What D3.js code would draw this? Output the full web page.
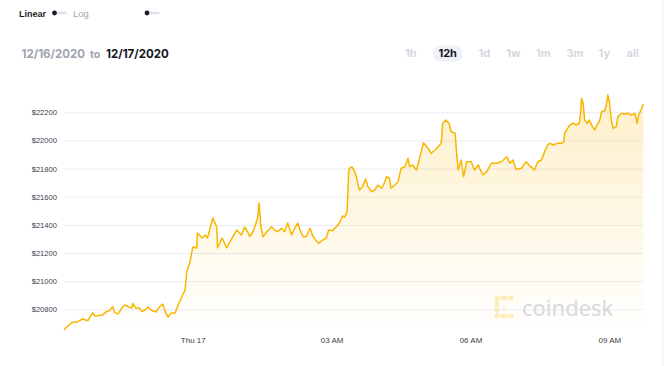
<!DOCTYPE html>
<html>
<head>
<meta charset="utf-8">
<script src="https://cdn.jsdelivr.net/npm/d3@7"></script>
<style>
  body { margin: 0; background: #fff; }
  svg { display: block; }
</style>
</head>
<body>
<svg id="chart" width="666" height="366"></svg>
<script>
// BTC price, 12h window. minutes are relative to 00:00 Thu Dec 17 2020
var minutes = [-167,-165,-162,-157,-153,-149,-143,-136,-130,-127,-122,-117,-112,-108,-104,-101,-97,-92,-88,-84,-79,-78,-74,-69,-66,-62,-58,-54,-48,-43,-39,-35,-32,-28,-23,-19,-15,-10,-8,-4,
  0,5,6,12,16,19,26,31,32,38,44,51,57,63,67,71,74,78,82,84,86,88,91,96,102,106,110,115,119,123,128,132,136,139,143,147,152,155,159,163,168,173,176,181,186,190,194,197,200,201,202,
  203,206,210,212,216,220,224,227,232,236,240,245,249,251,255,257,262,266,270,275,279,281,285,290,294,299,305,309,314,318,322,324,328,332,335,340,342,344,348,351,355,361,365,370,376,381,387,394,
  400,407,411,415,419,426,432,437,441,443,447,452,456,460,463,467,473,478,481,482,486,489,493,497,501,503,504,506,508,511,514,518,521,525,527,530,534,536,538,540,543,545,549,551,556,560,564,569,573,576,578,581,584];
var prices = [20653,20667,20681,20705,20710,20712,20731,20719,20776,20752,20756,20760,20783,20790,20818,20776,20767,20809,20831,20818,20809,20841,20809,20809,20783,20795,20816,20795,20781,20818,20838,20774,20745,20774,20774,20831,20880,20937,21065,21129,
  21243,21236,21342,21307,21328,21307,21449,21385,21236,21307,21236,21307,21364,21328,21385,21351,21316,21351,21413,21449,21555,21399,21316,21351,21387,21364,21351,21376,21351,21413,21328,21376,21413,21364,21316,21316,21376,21328,21292,21269,21292,21305,21364,21359,21387,21413,21463,21456,21494,21626,21769,
  21802,21813,21778,21742,21648,21671,21726,21671,21636,21648,21683,21660,21707,21742,21731,21660,21683,21707,21802,21813,21873,21813,21826,21790,21875,21984,21944,21909,21932,21956,21980,22122,22145,22122,22062,22051,21909,21790,21861,21742,21849,21849,21790,21826,21754,21778,21838,21838,
  21849,21884,21838,21861,21795,21802,21849,21818,21802,21790,21847,21861,21920,21968,21980,21968,21980,21980,21991,22051,22086,22110,22122,22110,22122,22216,22300,22264,22145,22122,22145,22098,22074,22122,22133,22204,22211,22252,22323,22275,22133,22086,22098,22169,22193,22188,22193,22181,22193,22122,22181,22216,22259];

var yTicks = [20800, 21000, 21200, 21400, 21600, 21800, 22000, 22200];
var xTickHours = [0, 3, 6, 9];
var ranges = ["1h", "12h", "1d", "1w", "1m", "3m", "1y", "all"];
var activeRange = "12h";
var fromDate = "12/16/2020", toDate = "12/17/2020";

var svg = d3.select("#chart");
var left = 64, right = 643.3, plotBottom = 333;

var day0 = new Date(2020, 11, 17, 0, 0);
function toTime(m) { return new Date(day0.getTime() + m * 60000); }

var data = minutes.map(function(m, i) { return {t: toTime(m), p: prices[i]}; });

var x = d3.scaleTime()
  .domain([toTime(minutes[0]), toTime(minutes[minutes.length - 1])])
  .range([left, right]);

var y = d3.scaleLinear()
  .domain([20800, 22200])
  .range([309.3, 112.3]);

// header
var hdr = svg.append("g").style("font-family", "Inter, 'Liberation Sans', Arial, sans-serif");
hdr.append("text").attr("x", 19).attr("y", 16.5).text("Linear")
  .style("font-family", "'Liberation Sans', Arial, sans-serif")
  .style("font-size", "9px").style("font-weight", 700).style("fill", "#1b1d2a");
hdr.append("line").attr("x1", 54).attr("x2", 66).attr("y1", 13).attr("y2", 13)
  .style("stroke", "#dfe2ea").style("stroke-width", 2.4).style("stroke-linecap", "round");
hdr.append("circle").attr("cx", 54.5).attr("cy", 13).attr("r", 2.4).style("fill", "#1b1d2a");
hdr.append("text").attr("x", 73).attr("y", 16.5).text("Log")
  .style("font-family", "'Liberation Sans', Arial, sans-serif")
  .style("font-size", "9.5px").style("fill", "#a3a7b3");
hdr.append("line").attr("x1", 147).attr("x2", 158.5).attr("y1", 13).attr("y2", 13)
  .style("stroke", "#dfe2ea").style("stroke-width", 2.4).style("stroke-linecap", "round");
hdr.append("circle").attr("cx", 147).attr("cy", 13).attr("r", 2.4).style("fill", "#1b1d2a");

hdr.append("text").attr("x", 21.5).attr("y", 57.5).text(fromDate)
  .style("font-size", "11.5px").style("font-weight", 700).style("fill", "#9ea3b0");
hdr.append("text").attr("x", 90).attr("y", 57.5).text("to")
  .style("font-size", "10.5px").style("font-weight", 700).style("fill", "#9ea3b0");
hdr.append("text").attr("x", 106).attr("y", 57.5).text(toDate)
  .style("font-size", "11.5px").style("font-weight", 700).style("fill", "#14161f");

var btnX = [410.7, 447.7, 484.3, 513.3, 543.3, 575, 604.3, 632.7];
ranges.forEach(function(r, i) {
  if (r == activeRange) {
    hdr.append("rect").attr("x", btnX[i] - 15).attr("y", 45.5).attr("width", 30).attr("height", 16)
      .attr("rx", 8).style("fill", "#eef1f8");
  }
  hdr.append("text").attr("x", btnX[i]).attr("y", 57.3).attr("text-anchor", "middle").text(r)
    .style("font-size", "11px").style("font-weight", 700)
    .style("fill", r == activeRange ? "#14161f" : "#d5d8e1");
});

svg.append("line").attr("x1", 663).attr("x2", 663).attr("y1", 0).attr("y2", 366)
  .style("stroke", "#eceef3").style("stroke-width", 1);

// grid + y axis
var yAxis = d3.axisLeft(y).tickValues(yTicks).tickSize(-(right - left)).tickPadding(7)
  .tickFormat(function(d) { return "$" + d; });

svg.append("g")
  .attr("transform", "translate(" + left + ",0)")
  .call(yAxis)
  .call(function(g) {
    g.select(".domain").remove();
    g.selectAll(".tick line").style("stroke", "#e9ecf4").style("stroke-width", 1);
    g.selectAll(".tick text").style("font-family", "'Liberation Sans', Arial, sans-serif")
      .style("font-size", "7.6px").style("fill", "#3d404c");
  });

// watermark
var wm = svg.append("g").attr("transform", "translate(495,296)");
var dots = [[2,2],[9,2],[16,2],[2,8],[2,14],[2,20],[9,20],[16,20]];
wm.append("path").attr("d", "M16,2 H2 V20 H16").style("fill", "none")
  .style("stroke", "#fef3d4").style("stroke-width", 3);
dots.forEach(function(d) {
  wm.append("circle").attr("cx", d[0]).attr("cy", d[1]).attr("r", 2.6).style("fill", "#fdeebf");
});
wm.append("circle").attr("cx", 9.5).attr("cy", 11).attr("r", 1.4).style("fill", "#fef3d4");
wm.append("text").attr("x", 27).attr("y", 19.5).text("coindesk")
  .style("font-family", "'Noto Sans', 'Open Sans', sans-serif").style("font-size", "22px")
  .style("fill", "#d7dae2");

// area + line
var grad = svg.append("defs").append("linearGradient").attr("id", "fillGrad")
  .attr("gradientUnits", "userSpaceOnUse").attr("x1", 0).attr("x2", 0).attr("y1", 95).attr("y2", plotBottom);
grad.append("stop").attr("offset", "0%").attr("stop-color", "#f9be22").attr("stop-opacity", 0.24);
grad.append("stop").attr("offset", "100%").attr("stop-color", "#f9be22").attr("stop-opacity", 0.0);

var area = d3.area()
  .x(function(d) { return x(d.t); })
  .y0(plotBottom)
  .y1(function(d) { return y(d.p); });

svg.append("path").datum(data).attr("d", area).style("fill", "url(#fillGrad)");

var line = d3.line()
  .x(function(d) { return x(d.t); })
  .y(function(d) { return y(d.p); });

svg.append("path").datum(data).attr("d", line)
  .style("fill", "none").style("stroke", "#f8b600").style("stroke-width", 1.5)
  .style("stroke-linejoin", "round");

// x axis
var xAxis = d3.axisBottom(x)
  .tickValues(xTickHours.map(function(h) { return toTime(h * 60); }))
  .tickSize(0).tickPadding(4)
  .tickFormat(function(d) {
    return d.getHours() == 0 ? d3.timeFormat("%a %d")(d) : d3.timeFormat("%I %p")(d);
  });

svg.append("g")
  .attr("transform", "translate(0," + plotBottom + ")")
  .call(xAxis)
  .call(function(g) {
    g.select(".domain").remove();
    g.selectAll(".tick text").style("font-family", "'Liberation Sans', Arial, sans-serif")
      .style("font-size", "8px").style("fill", "#3d404c");
  });
</script>
</body>
</html>
